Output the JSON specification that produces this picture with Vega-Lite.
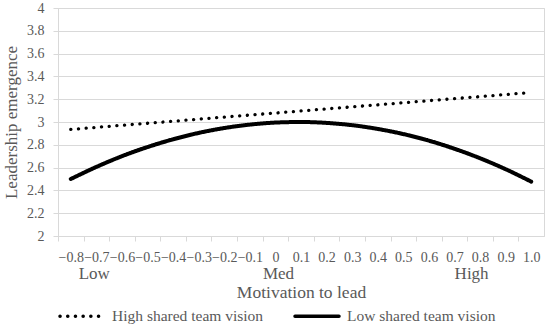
{
  "$schema": "https://vega.github.io/schema/vega-lite/v6.json",
  "width": 486,
  "height": 228,
  "autosize": "none",
  "padding": {"left": 58, "top": 8, "right": 6, "bottom": 92},
  "background": "white",
  "config": {
    "font": "Liberation Serif",
    "axis": {"labelFont": "Liberation Serif", "titleFont": "Liberation Serif"},
    "legend": {"labelFont": "Liberation Serif"},
    "view": {"stroke": "#d9d9d9", "strokeWidth": 1}
  },
  "datasets": {
    "rows": [
      {"series": "High shared team vision", "x": -0.8, "y": 2.935},
      {"series": "High shared team vision", "x": -0.7, "y": 2.953},
      {"series": "High shared team vision", "x": -0.6, "y": 2.971},
      {"series": "High shared team vision", "x": -0.5, "y": 2.989},
      {"series": "High shared team vision", "x": -0.4, "y": 3.007},
      {"series": "High shared team vision", "x": -0.3, "y": 3.025},
      {"series": "High shared team vision", "x": -0.2, "y": 3.043},
      {"series": "High shared team vision", "x": -0.1, "y": 3.061},
      {"series": "High shared team vision", "x": 0.0, "y": 3.079},
      {"series": "High shared team vision", "x": 0.1, "y": 3.097},
      {"series": "High shared team vision", "x": 0.2, "y": 3.115},
      {"series": "High shared team vision", "x": 0.3, "y": 3.133},
      {"series": "High shared team vision", "x": 0.4, "y": 3.151},
      {"series": "High shared team vision", "x": 0.5, "y": 3.169},
      {"series": "High shared team vision", "x": 0.6, "y": 3.187},
      {"series": "High shared team vision", "x": 0.7, "y": 3.205},
      {"series": "High shared team vision", "x": 0.8, "y": 3.223},
      {"series": "High shared team vision", "x": 0.9, "y": 3.241},
      {"series": "High shared team vision", "x": 1.0, "y": 3.259},
      {"series": "Low shared team vision", "x": -0.8, "y": 2.500},
      {"series": "Low shared team vision", "x": -0.7, "y": 2.606},
      {"series": "Low shared team vision", "x": -0.6, "y": 2.700},
      {"series": "Low shared team vision", "x": -0.5, "y": 2.780},
      {"series": "Low shared team vision", "x": -0.4, "y": 2.848},
      {"series": "Low shared team vision", "x": -0.3, "y": 2.904},
      {"series": "Low shared team vision", "x": -0.2, "y": 2.947},
      {"series": "Low shared team vision", "x": -0.1, "y": 2.977},
      {"series": "Low shared team vision", "x": 0.0, "y": 2.995},
      {"series": "Low shared team vision", "x": 0.1, "y": 3.000},
      {"series": "Low shared team vision", "x": 0.2, "y": 2.992},
      {"series": "Low shared team vision", "x": 0.3, "y": 2.972},
      {"series": "Low shared team vision", "x": 0.4, "y": 2.939},
      {"series": "Low shared team vision", "x": 0.5, "y": 2.894},
      {"series": "Low shared team vision", "x": 0.6, "y": 2.836},
      {"series": "Low shared team vision", "x": 0.7, "y": 2.765},
      {"series": "Low shared team vision", "x": 0.8, "y": 2.682},
      {"series": "Low shared team vision", "x": 0.9, "y": 2.586},
      {"series": "Low shared team vision", "x": 1.0, "y": 2.477}
    ]
  },
  "data": {"name": "rows"},
  "encoding": {
    "y": {
      "field": "y",
      "type": "quantitative",
      "scale": {"domain": [2, 4], "nice": false, "zero": false},
      "axis": {
        "values": [2, 2.2, 2.4, 2.6, 2.8, 3, 3.2, 3.4, 3.6, 3.8, 4],
        "format": "~g",
        "grid": true,
        "gridColor": "#d9d9d9",
        "domainColor": "#d9d9d9",
        "tickColor": "#d9d9d9",
        "tickSize": 5,
        "labelFont": "Liberation Serif",
        "labelFontSize": 14,
        "labelColor": "#595959",
        "labelPadding": 9,
        "title": "Leadership emergence",
        "titleFont": "Liberation Serif",
        "titleFontSize": 17,
        "titleFontWeight": "normal",
        "titleColor": "#595959",
        "titlePadding": 6
      }
    },
    "color": {
      "field": "series",
      "type": "nominal",
      "scale": {"domain": ["High shared team vision", "Low shared team vision"], "range": ["#000000", "#000000"]},
      "legend": {
        "title": null,
        "orient": "bottom",
        "direction": "horizontal",
        "offset": -9,
        "symbolType": "stroke",
        "symbolSize": 1936,
        "symbolStrokeWidth": 3.5,
        "labelFont": "Liberation Serif",
        "labelFontSize": 15.5,
        "labelColor": "#595959",
        "labelOffset": 6,
        "columnPadding": 24,
        "encode": {"symbols": {"update": {"strokeCap": {"value": "round"}}}}
      }
    },
    "strokeDash": {
      "field": "series",
      "type": "nominal",
      "scale": {"domain": ["High shared team vision", "Low shared team vision"], "range": [[0.1, 7.6], [1, 0]]},
      "legend": {
        "title": null,
        "orient": "bottom",
        "direction": "horizontal",
        "offset": -9,
        "symbolType": "stroke",
        "symbolSize": 1936,
        "symbolStrokeWidth": 3.5,
        "labelFont": "Liberation Serif",
        "labelFontSize": 15.5,
        "labelColor": "#595959",
        "labelOffset": 6,
        "columnPadding": 24,
        "encode": {"symbols": {"update": {"strokeCap": {"value": "round"}}}}
      }
    }
  },
  "resolve": {"axis": {"x": "independent"}},
  "layer": [
    {
      "transform": [{"filter": "datum.series === 'High shared team vision'"}],
      "mark": {"type": "line", "interpolate": "monotone", "strokeWidth": 3.3, "strokeCap": "round"},
      "encoding": {
        "x": {
          "field": "x",
          "type": "quantitative",
          "scale": {"domain": [-0.85, 1.05], "nice": false, "zero": false},
          "axis": {
            "orient": "bottom",
            "values": [-0.8, -0.7, -0.6, -0.5, -0.4, -0.3, -0.2, -0.1, 0, 0.1, 0.2, 0.3, 0.4, 0.5, 0.6, 0.7, 0.8, 0.9, 1.0],
            "labelExpr": "datum.value == 0 ? '0' : format(datum.value, '.1f')",
            "grid": false,
            "domainColor": "#d9d9d9",
            "tickColor": "#d9d9d9",
            "tickSize": 5,
            "tickOffset": -12.79,
            "labelOffset": 12.79,
            "labelPadding": 9,
            "labelFont": "Liberation Serif",
            "labelFontSize": 14,
            "labelColor": "#595959",
            "labelOverlap": false,
            "labelFlush": false,
            "labelBound": false,
            "title": null
          }
        }
      }
    },
    {
      "transform": [{"filter": "datum.series === 'Low shared team vision'"}],
      "mark": {"type": "line", "interpolate": "monotone", "strokeWidth": 4, "strokeCap": "round"},
      "encoding": {
        "x": {
          "field": "x",
          "type": "quantitative",
          "scale": {"domain": [-0.85, 1.05], "nice": false, "zero": false},
          "axis": {
            "orient": "bottom",
            "values": [-0.71, 0.01, 0.765],
            "labelExpr": "datum.value < -0.3 ? 'Low' : (datum.value < 0.4 ? 'Med' : 'High')",
            "grid": false,
            "domain": false,
            "ticks": false,
            "tickSize": 0,
            "labelPadding": 29,
            "labelFont": "Liberation Serif",
            "labelFontSize": 17,
            "labelColor": "#595959",
            "labelOverlap": false,
            "labelFlush": false,
            "labelBound": false,
            "title": "Motivation to lead",
            "titleFont": "Liberation Serif",
            "titleFontSize": 17.5,
            "titleFontWeight": "normal",
            "titleColor": "#595959",
            "titlePadding": 2
          }
        }
      }
    }
  ]
}
